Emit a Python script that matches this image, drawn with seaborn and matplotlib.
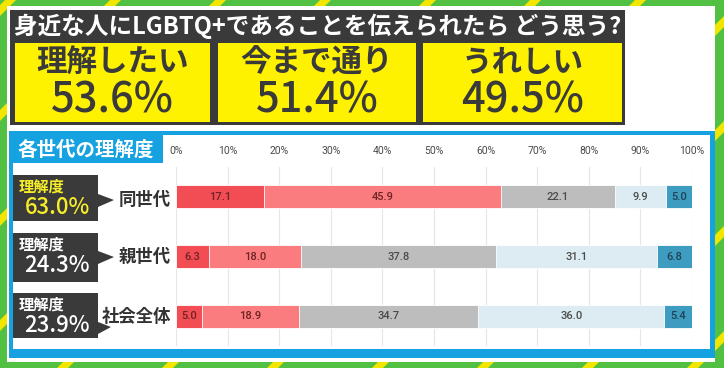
import numpy as np
import pandas as pd
import matplotlib
matplotlib.use("Agg")
import matplotlib.pyplot as plt
import seaborn as sns
from matplotlib.patches import Rectangle, Polygon

# ---------------- data ----------------
title = "身近な人にLGBTQ+であることを伝えられたら どう思う?"
top_labels = ["理解したい", "今まで通り", "うれしい"]
top_values = [53.6, 51.4, 49.5]
section_title = "各世代の理解度"
generations = ["同世代", "親世代", "社会全体"]
seg_deep = [17.1, 6.3, 5.0]
seg_want = [45.9, 18.0, 18.9]
seg_grey = [22.1, 37.8, 34.7]
seg_light = [9.9, 31.1, 36.0]
seg_teal = [5.0, 6.8, 5.4]
understanding_label = "理解度"
understanding = [63.0, 24.3, 23.9]
tick_values = [0, 10, 20, 30, 40, 50, 60, 70, 80, 90, 100]
tick_labels = [f"{v}%" for v in tick_values]

# ---------------- style ----------------
sns.set_style("white")
plt.rcParams["font.family"] = ["Noto Sans CJK JP", "DejaVu Sans"]

GREEN = "#52c043"
STRIPE = "#f2e600"
DARK = "#3a3a3a"
YELLOW = "#fff200"
BLUE = "#16a2e0"
seg_colors = ["#f24d55", "#fb7c7e", "#bdbdbd", "#dcecf2", "#3d9cc0"]
seg_text = ["#6e2222", "#6e2222", "#4a4a4a", "#4a4a4a", "#1e4456"]

fig = plt.figure(figsize=(7.24, 3.68), dpi=100)
bg = fig.add_axes([0, 0, 1, 1])
bg.set_xlim(0, 724)
bg.set_ylim(368, 0)
bg.axis("off")

# green background with diagonal yellow stripes
bg.add_patch(Rectangle((0, 0), 724, 368, color=GREEN, zorder=0))
for k in range(-5, 8):
    xb = 57 + 105 * k
    bg.add_patch(Polygon([(xb, 368), (xb + 11, 368), (xb + 11 + 368, 0), (xb + 368, 0)],
                         closed=True, color=STRIPE, zorder=0.5, lw=0))
# white panel
bg.add_patch(Rectangle((7, 6), 708, 356, color="white", zorder=1, lw=0))

# title bar + yellow boxes
bg.add_patch(Rectangle((10, 10), 615, 115, color=DARK, zorder=2, lw=0))
bg.text(14, 26, title, color="white", fontsize=17, fontweight="bold",
        ha="left", va="center", zorder=3)
boxes = [(15, 210), (218, 416), (423, 622)]
for (x0, x1), lab, val in zip(boxes, top_labels, top_values):
    bg.add_patch(Rectangle((x0, 43), x1 - x0, 79, color=YELLOW, zorder=3, lw=0))
    cx = (x0 + x1) / 2
    bg.text(cx, 63, lab, color=DARK, fontsize=22, fontweight="bold",
            ha="center", va="center", zorder=4)
    bg.text(cx, 100, f"{val:.1f}%", color=DARK, fontsize=30, fontweight="medium",
            ha="center", va="center", zorder=4)

# blue frame
bg.add_patch(Rectangle((9, 131), 706, 227, color=BLUE, zorder=2, lw=0))
bg.add_patch(Rectangle((13, 135), 697, 214, color="white", zorder=2.1, lw=0))
bg.add_patch(Rectangle((13, 135), 150, 28, color=BLUE, zorder=2.2, lw=0))
bg.text(17, 150, section_title, color="white", fontsize=14, fontweight="bold",
        ha="left", va="center", zorder=3)

# left labels
box_y = [(175, 221), (233, 282), (293, 338)]
tri = [[(98, 194), (98, 207), (114, 200)],
       [(98, 251), (98, 264), (114, 257)],
       [(98, 322), (98, 334), (111, 327)]]
text_col = ["#f7ee2a", "white", "white"]
label_y = [200, 257, 317]
for i in range(3):
    y0, y1 = box_y[i]
    bg.add_patch(Rectangle((13, y0), 85, y1 - y0, color=DARK, zorder=3, lw=0))
    bg.add_patch(Polygon(tri[i], closed=True, color=DARK, zorder=3, lw=0))
    bg.text(19, y0 + 12, understanding_label, color=text_col[i], fontsize=11,
            fontweight="bold", ha="left", va="center", zorder=4)
    bg.text(57, y0 + 33, f"{understanding[i]:.1f}%", color=text_col[i], fontsize=16,
            fontweight="medium", ha="center", va="center", zorder=4)
    bg.text(171, label_y[i], generations[i], color="#333333", fontsize=12.5,
            fontweight="bold", ha="right", va="center", zorder=4)

# ---------------- stacked bar chart ----------------
ax = fig.add_axes([176 / 724, 1 - 346 / 368, 516 / 724, 179 / 368], zorder=5)
ax.patch.set_alpha(0)
segments = [seg_deep, seg_want, seg_grey, seg_light, seg_teal]
cum = np.cumsum(np.array(segments), axis=0)
df = pd.DataFrame({"generation": generations})
for j in range(len(segments) - 1, -1, -1):
    df["cum"] = cum[j]
    sns.barplot(data=df, x="cum", y="generation", orient="h", color=seg_colors[j],
                saturation=1, width=0.39, linewidth=0.6, edgecolor="white", ax=ax)

for j, seg in enumerate(segments):
    starts = cum[j] - np.array(seg)
    for i, v in enumerate(seg):
        ax.text(starts[i] + v / 2, i, f"{v:.1f}", ha="center", va="center",
                fontsize=8, fontweight="medium", color=seg_text[j],
                family=["Roboto", "DejaVu Sans"])

ax.set_xlim(0, 100)
ax.set_ylim(2.5, -0.5)
ax.set_xticks(tick_values)
ax.set_xticklabels(tick_labels)
ax.xaxis.tick_top()
ax.tick_params(axis="x", length=0, pad=8, labelsize=7.5, labelcolor="#4a4a4a")
for lab in ax.get_xticklabels():
    lab.set_family(["Roboto", "DejaVu Sans"])
ax.set_yticks([])
ax.set_xlabel("")
ax.set_ylabel("")
ax.grid(axis="x", color="#e6e6e6", lw=0.8)
ax.set_axisbelow(True)
for s in ax.spines.values():
    s.set_visible(False)

fig.savefig("out.png", dpi=100)
